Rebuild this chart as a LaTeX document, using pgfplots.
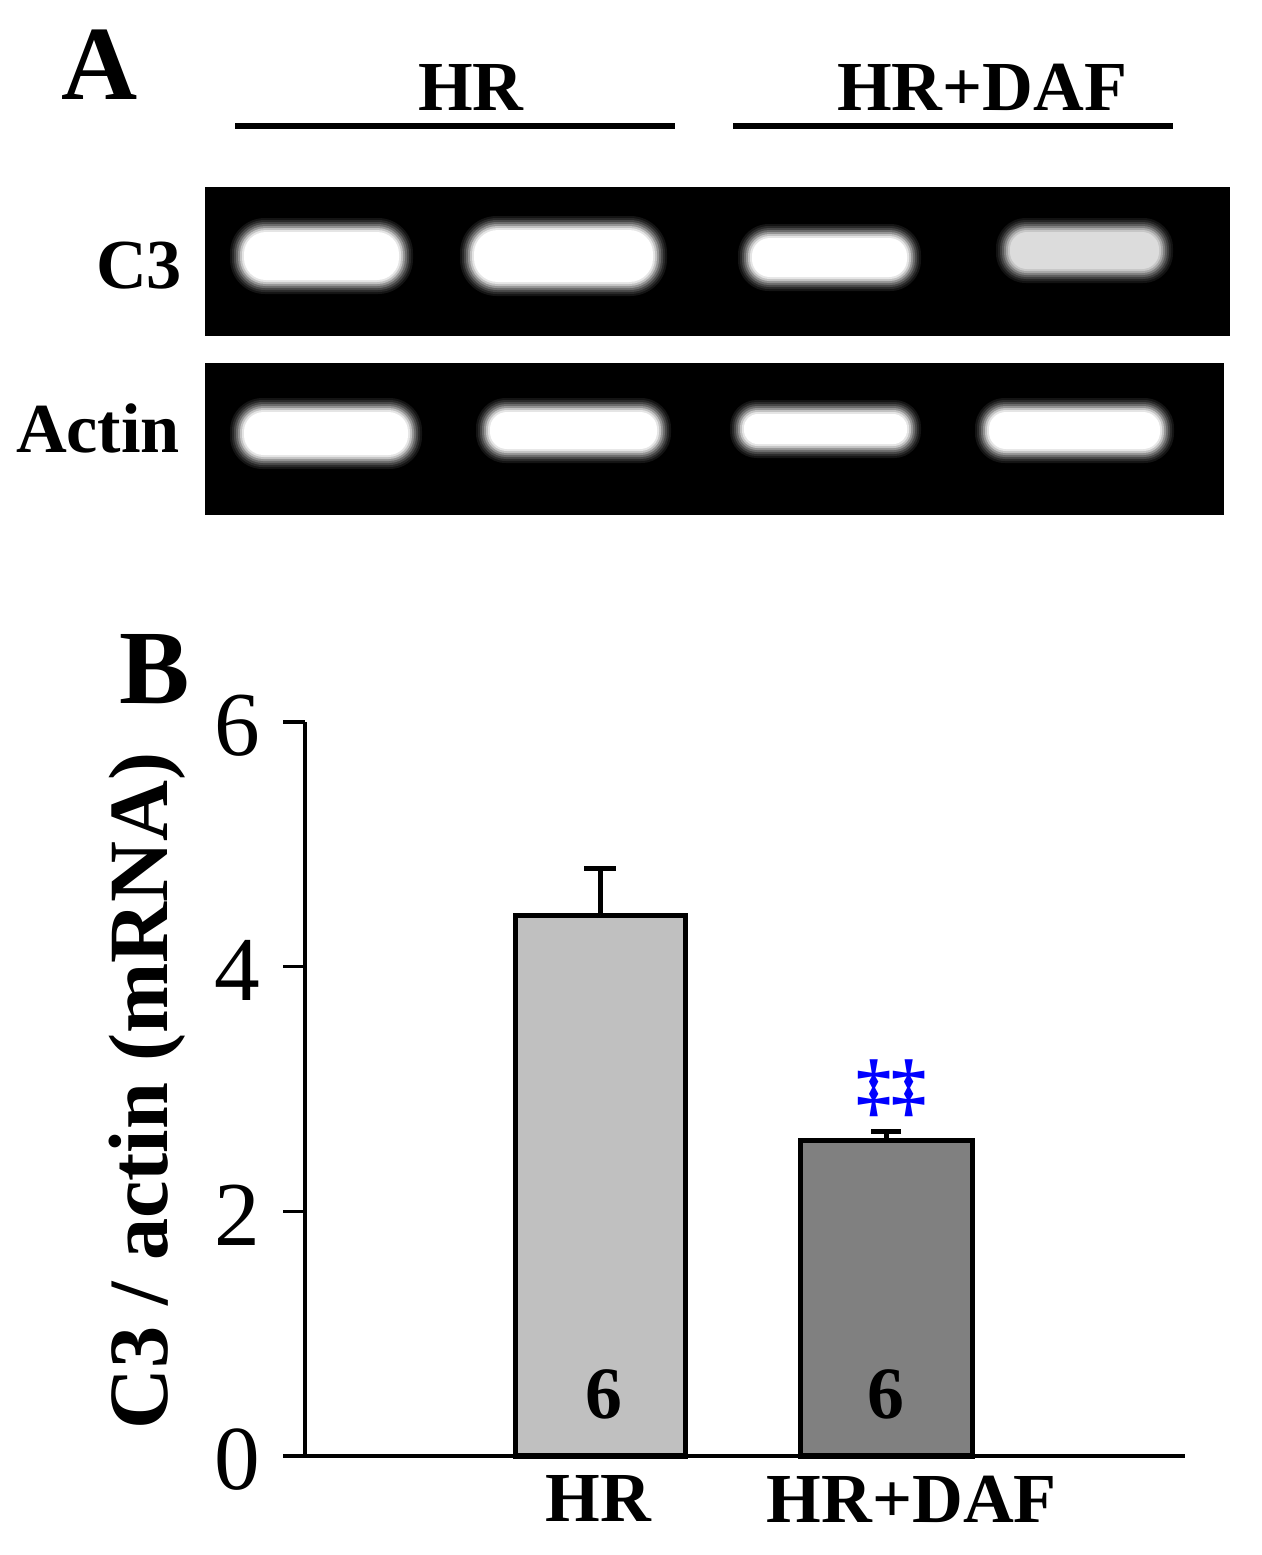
\documentclass[border=0pt]{standalone}
\usepackage{pgfplots}
\pgfplotsset{compat=1.18}
\usepackage{fontspec}
\setmainfont{Liberation Serif}
\definecolor{barA}{RGB}{192,192,192}
\definecolor{barB}{RGB}{128,128,128}
\definecolor{faint}{RGB}{220,220,220}
\newcommand{\band}[5]{%
  \fill[#5!8!black, rounded corners={0.0046cm*(#4-#2)}] (axis cs:#1,#2) rectangle (axis cs:#3,#4);
  \fill[#5!16!black, rounded corners={0.0046cm*(#4-#2-4)}] (axis cs:{#1+2},{#2+2}) rectangle (axis cs:{#3-2},{#4-2});
  \fill[#5!28!black, rounded corners={0.0046cm*(#4-#2-8)}] (axis cs:{#1+4},{#2+4}) rectangle (axis cs:{#3-4},{#4-4});
  \fill[#5!42!black, rounded corners={0.0046cm*(#4-#2-12)}] (axis cs:{#1+6},{#2+6}) rectangle (axis cs:{#3-6},{#4-6});
  \fill[#5!58!black, rounded corners={0.0046cm*(#4-#2-16)}] (axis cs:{#1+8},{#2+8}) rectangle (axis cs:{#3-8},{#4-8});
  \fill[#5!76!black, rounded corners={0.0046cm*(#4-#2-20)}] (axis cs:{#1+10},{#2+10}) rectangle (axis cs:{#3-10},{#4-10});
  \fill[#5!90!black, rounded corners={0.0046cm*(#4-#2-24)}] (axis cs:{#1+12},{#2+12}) rectangle (axis cs:{#3-12},{#4-12});
  \fill[#5, rounded corners={0.0046cm*(#4-#2-28)}] (axis cs:{#1+14},{#2+14}) rectangle (axis cs:{#3-14},{#4-14});
}
\begin{document}
\begin{tikzpicture}
\begin{axis}[at={(0,0)}, anchor=south west, width=12.62cm, height=15.55cm, scale only axis,
  xmin=0, xmax=1262, ymin=0, ymax=1555, y dir=reverse, hide axis, clip=false]
  \path (axis cs:0,0) rectangle (axis cs:1262,1555);
  % panel A labels
  \node[anchor=base, inner sep=0pt, font=\bfseries\fontsize{30}{36}\selectfont] at (axis cs:100,99) {A};
  \node[anchor=base, inner sep=0pt, font=\bfseries\fontsize{20}{24}\selectfont] at (axis cs:471,110) {HR};
  \node[anchor=base, inner sep=0pt, font=\bfseries\fontsize{20}{24}\selectfont] at (axis cs:982,110) {HR+DAF};
  \draw[line width=1.45pt] (axis cs:235,126) -- (axis cs:675,126);
  \draw[line width=1.45pt] (axis cs:733,126) -- (axis cs:1173,126);
  \node[anchor=base, inner sep=0pt, font=\bfseries\fontsize{20}{24}\selectfont] at (axis cs:139,288) {C3};
  \node[anchor=base, inner sep=0pt, font=\bfseries\fontsize{20}{24}\selectfont] at (axis cs:98,452) {Actin};
  % gels
  \fill[black] (axis cs:205,187) rectangle (axis cs:1230,336);
  \fill[black] (axis cs:205,363) rectangle (axis cs:1224,515);
  \band{230}{218}{413}{294}{white}
  \band{460}{216}{667}{296}{white}
  \band{738}{224}{921}{291}{white}
  \band{996}{218}{1173}{283}{faint}
  \band{230}{398}{422}{469}{white}
  \band{476}{398}{671}{463}{white}
  \band{730}{400}{921}{458}{white}
  \band{975}{398}{1174}{463}{white}
  % panel B labels
  \node[anchor=base, inner sep=0pt, font=\bfseries\fontsize{30}{36}\selectfont] at (axis cs:155,703) {B};
  \node[anchor=base, inner sep=0pt, rotate=90, font=\bfseries\fontsize{24}{28}\selectfont] at (axis cs:167,1091) {C3 / actin (mRNA)};
  \coordinate (O) at (axis cs:305,1456);
\end{axis}
\begin{axis}[at={(O)}, anchor=south west, scale only axis, width=8.80cm, height=7.34cm,
  xmin=-0.0315, xmax=3.045, ymin=0, ymax=6,
  axis x line=bottom, axis y line=left,
  axis line style={-, line width=0.9pt},
  ytick={0,2,4,6}, tick align=outside, major tick length=0.22cm,
  y tick style={line width=0.9pt, black},
  xtick={0.993,2.09}, xticklabels={HR,HR+DAF},
  x tick style={draw=none},
  xticklabel style={font=\bfseries\fontsize{20}{24}\selectfont, inner sep=0pt, yshift=0.03cm},
  yticklabel style={font=\fontsize{26}{30}\selectfont, xshift=-0.1cm, yshift=-0.04cm},
  /pgf/number format/assume math mode=true,
  clip=false]
  \addplot[ybar, bar width=1.70cm, bar shift=0pt, fill=barA, draw=black, line width=1.45pt,
    error bars/.cd, y dir=plus, y explicit,
    error bar style={line width=1.45pt},
    error mark options={rotate=90, mark size=0.16cm, line width=1.45pt}]
    coordinates {(1,4.42) +- (0,0.38)};
  \addplot[ybar, bar width=1.72cm, bar shift=0pt, fill=barB, draw=black, line width=1.45pt,
    error bars/.cd, y dir=plus, y explicit,
    error bar style={line width=1.45pt},
    error mark options={rotate=90, mark size=0.15cm, line width=1.45pt}]
    coordinates {(2,2.577) +- (0,0.075)};
  \node[anchor=base, inner sep=0pt, font=\bfseries\fontsize{21}{24}\selectfont] at (axis cs:1.015,0.31) {6};
  \node[anchor=base, inner sep=0pt, font=\bfseries\fontsize{21}{24}\selectfont] at (axis cs:2.0,0.31) {6};
  \node[anchor=base, inner sep=0pt, text=blue, font=\bfseries\fontsize{20}{24}\selectfont] at (axis cs:2.02,2.84) {‡‡};
\end{axis}
\end{tikzpicture}
\end{document}
